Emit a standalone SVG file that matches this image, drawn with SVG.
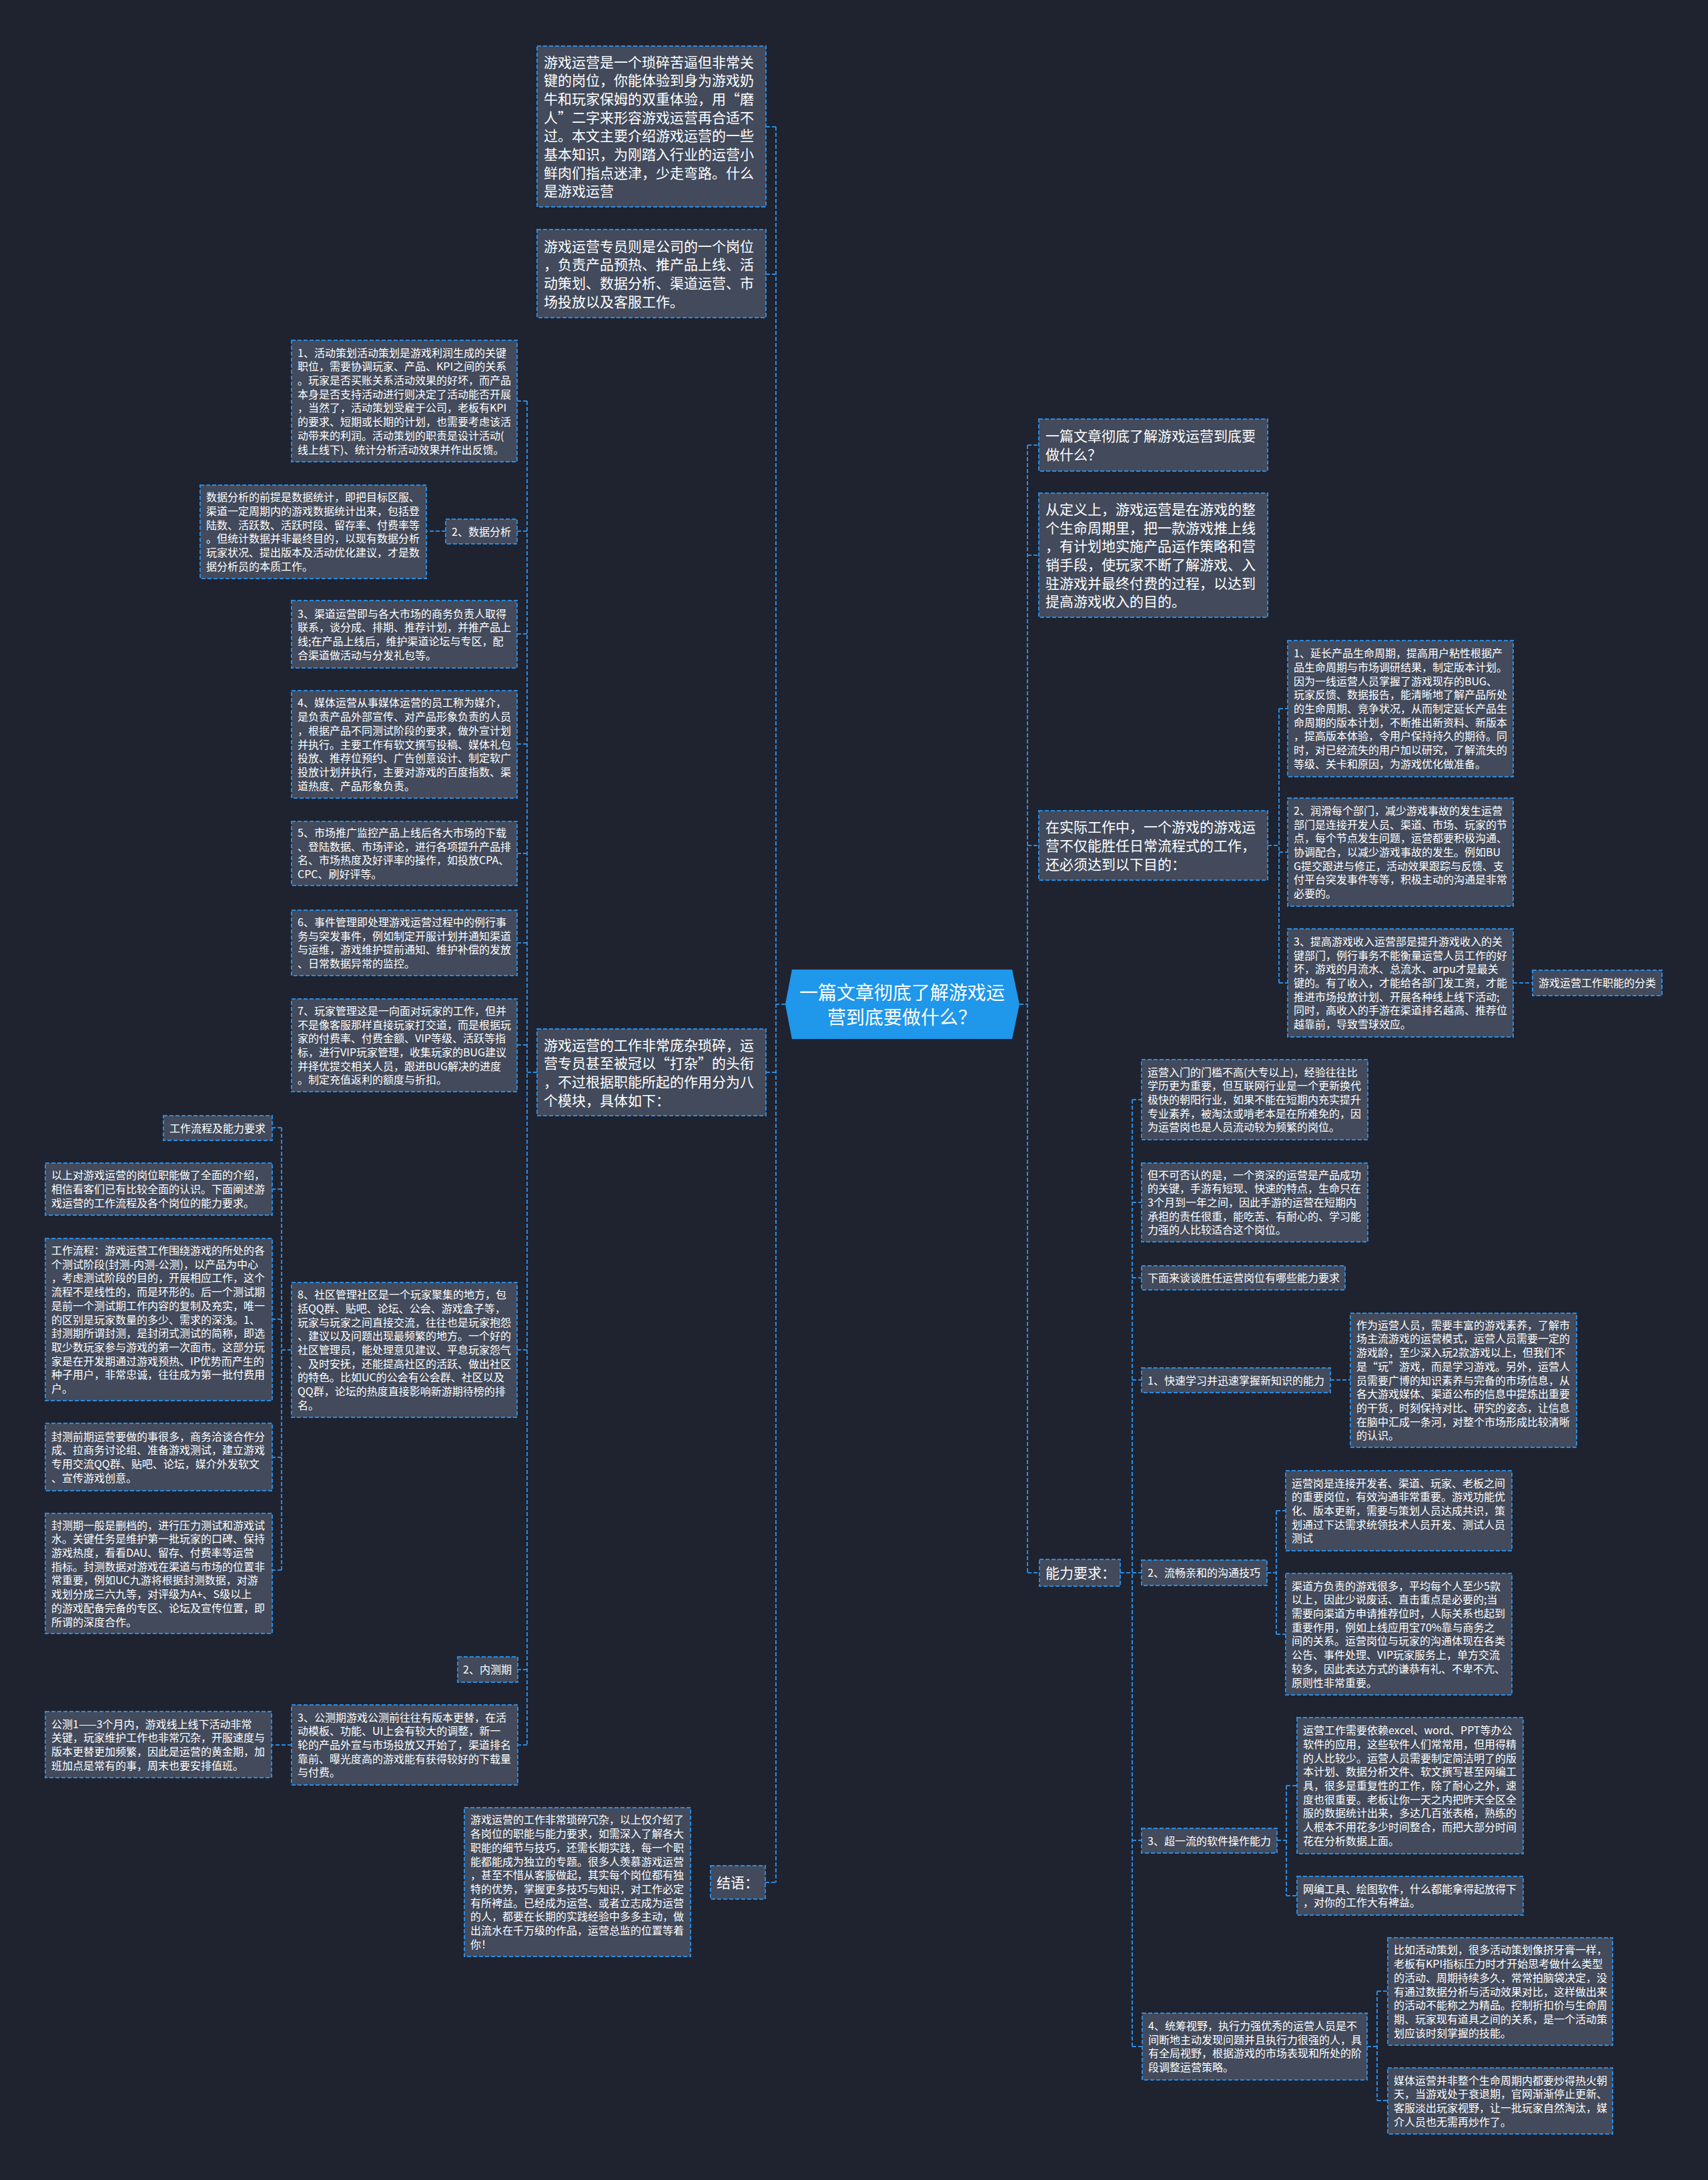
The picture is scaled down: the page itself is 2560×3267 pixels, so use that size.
<svg xmlns="http://www.w3.org/2000/svg" width="2560" height="3267" viewBox="0 0 2560 3267">
<style>
.bg{fill:#1f2330}
.box{fill:#424a5b;stroke:#2a8be0;stroke-width:2;stroke-dasharray:6 3}
.t{font-family:"Noto Sans CJK SC","Noto Sans",sans-serif;font-size:16px;fill:#ffffff}
.T{font-family:"Noto Sans CJK SC","Noto Sans",sans-serif;font-size:21px;fill:#ffffff}
.c{fill:none;stroke:#2a8be0;stroke-width:2;stroke-dasharray:6 3}
.ctr{fill:#1f97ea}
.ct{font-family:"Noto Sans CJK SC","Noto Sans",sans-serif;font-size:28px;fill:#ffffff;text-anchor:middle}
</style>
<rect class="bg" x="0" y="0" width="2560" height="3267"/>

<g id="connectors">
<path class="c" d="M1177 1505H1163M1163 190V2821M1148 190H1163M1148 411H1163M1148 1607H1163M1147 2821H1163"/>
<path class="c" d="M1528 1505H1540M1540 667V2357M1540 667H1557M1540 832H1557M1540 1267H1557M1540 2357H1558"/>
<path class="c" d="M805 1607H790M790 601V2615M790 601H775M790 796H775M790 950H775M790 1115H775M790 1279H775M790 1413H775M790 1566H775M790 2023H775M790 2502H776M790 2615H776"/>
<path class="c" d="M668 796H639"/>
<path class="c" d="M437 2023H422M422 1690V2353M422 1690H408M422 1782H408M422 1977H408M422 2184H408M422 2353H408"/>
<path class="c" d="M437 2615H407"/>
<path class="c" d="M1900 1267H1917M1917 1062V1473M1917 1062H1930M1917 1277H1930M1917 1473H1930"/>
<path class="c" d="M2268 1473H2297"/>
<path class="c" d="M1679 2357H1697M1697 1648V3067M1697 1648H1711M1697 1802H1711M1697 1915H1711M1697 2068H1711M1697 2357H1711M1697 2758H1711M1697 3067H1712"/>
<path class="c" d="M1994 2068H2024"/>
<path class="c" d="M1899 2357H1913M1913 2264V2449M1913 2264H1927M1913 2449H1927"/>
<path class="c" d="M1914 2758H1928M1928 2676V2841M1928 2676H1944M1928 2841H1944"/>
<path class="c" d="M2049 3067H2064M2064 2984V3148M2064 2984H2080M2064 3148H2080"/>
</g>

<g id="center">
<polygon class="ctr" points="1187,1453 1517,1453 1528,1505 1517,1557 1187,1557 1177,1505"/>
<text class="ct"><tspan x="1352" y="1498">一篇文章彻底了解游戏运</tspan><tspan x="1352" y="1535">营到底要做什么？</tspan></text>
</g>

<g id="L1">
<rect class="box" x="805" y="69" width="343" height="241"/>
<text class="T"><tspan x="815" y="100.5">游戏运营是一个琐碎苦逼但非常关</tspan><tspan x="815" dy="27.7">键的岗位，你能体验到身为游戏奶</tspan><tspan x="815" dy="27.7">牛和玩家保姆的双重体验，用“磨</tspan><tspan x="815" dy="27.7">人”二字来形容游戏运营再合适不</tspan><tspan x="815" dy="27.7">过。本文主要介绍游戏运营的一些</tspan><tspan x="815" dy="27.7">基本知识，为刚踏入行业的运营小</tspan><tspan x="815" dy="27.7">鲜肉们指点迷津，少走弯路。什么</tspan><tspan x="815" dy="27.7">是游戏运营</tspan></text>
</g>

<g id="L2">
<rect class="box" x="805" y="344" width="343" height="132"/>
<text class="T"><tspan x="815" y="376.5">游戏运营专员则是公司的一个岗位</tspan><tspan x="815" dy="27.7">，负责产品预热、推产品上线、活</tspan><tspan x="815" dy="27.7">动策划、数据分析、渠道运营、市</tspan><tspan x="815" dy="27.7">场投放以及客服工作。</tspan></text>
</g>

<g id="L3">
<rect class="box" x="805" y="1542" width="343" height="130"/>
<text class="T"><tspan x="815" y="1573.5">游戏运营的工作非常庞杂琐碎，运</tspan><tspan x="815" dy="27.7">营专员甚至被冠以“打杂”的头衔</tspan><tspan x="815" dy="27.7">，不过根据职能所起的作用分为八</tspan><tspan x="815" dy="27.7">个模块，具体如下：</tspan></text>
</g>

<g id="L4">
<rect class="box" x="1065" y="2796" width="82" height="50"/>
<text class="T"><tspan x="1074" y="2829">结语：</tspan></text>
</g>

<g id="L5">
<rect class="box" x="696" y="2709" width="339" height="223"/>
<text class="t"><tspan x="705" y="2733.4">游戏运营的工作非常琐碎冗杂，以上仅介绍了</tspan><tspan x="705" dy="20.7">各岗位的职能与能力要求，如需深入了解各大</tspan><tspan x="705" dy="20.7">职能的细节与技巧，还需长期实践，每一个职</tspan><tspan x="705" dy="20.7">能都能成为独立的专题。很多人羡慕游戏运营</tspan><tspan x="705" dy="20.7">，甚至不惜从客服做起，其实每个岗位都有独</tspan><tspan x="705" dy="20.7">特的优势，掌握更多技巧与知识，对工作必定</tspan><tspan x="705" dy="20.7">有所裨益。已经成为运营、或者立志成为运营</tspan><tspan x="705" dy="20.7">的人，都要在长期的实践经验中多多主动，做</tspan><tspan x="705" dy="20.7">出流水在千万级的作品，运营总监的位置等着</tspan><tspan x="705" dy="20.7">你！</tspan></text>
</g>

<g id="N1">
<rect class="box" x="437" y="510" width="338" height="182"/>
<text class="t"><tspan x="446" y="534.6">1、活动策划活动策划是游戏利润生成的关键</tspan><tspan x="446" dy="20.7">职位，需要协调玩家、产品、KPI之间的关系</tspan><tspan x="446" dy="20.7">。玩家是否买账关系活动效果的好坏，而产品</tspan><tspan x="446" dy="20.7">本身是否支持活动进行则决定了活动能否开展</tspan><tspan x="446" dy="20.7">，当然了，活动策划受雇于公司，老板有KPI</tspan><tspan x="446" dy="20.7">的要求、短期或长期的计划，也需要考虑该活</tspan><tspan x="446" dy="20.7">动带来的利润。活动策划的职责是设计活动(</tspan><tspan x="446" dy="20.7">线上线下)、统计分析活动效果并作出反馈。</tspan></text>
</g>

<g id="N2">
<rect class="box" x="668" y="778" width="107" height="37"/>
<text class="t"><tspan x="677" y="802.5">2、数据分析</tspan></text>
</g>

<g id="N2c">
<rect class="box" x="300" y="727" width="339" height="140"/>
<text class="t"><tspan x="309" y="751.3">数据分析的前提是数据统计，即把目标区服、</tspan><tspan x="309" dy="20.7">渠道一定周期内的游戏数据统计出来，包括登</tspan><tspan x="309" dy="20.7">陆数、活跃数、活跃时段、留存率、付费率等</tspan><tspan x="309" dy="20.7">。但统计数据并非最终目的，以现有数据分析</tspan><tspan x="309" dy="20.7">玩家状况、提出版本及活动优化建议，才是数</tspan><tspan x="309" dy="20.7">据分析员的本质工作。</tspan></text>
</g>

<g id="N3">
<rect class="box" x="437" y="900" width="338" height="101"/>
<text class="t"><tspan x="446" y="925.5">3、渠道运营即与各大市场的商务负责人取得</tspan><tspan x="446" dy="20.7">联系，谈分成、排期、推荐计划，并推产品上</tspan><tspan x="446" dy="20.7">线;在产品上线后，维护渠道论坛与专区，配</tspan><tspan x="446" dy="20.7">合渠道做活动与分发礼包等。</tspan></text>
</g>

<g id="N4">
<rect class="box" x="437" y="1035" width="338" height="161"/>
<text class="t"><tspan x="446" y="1059.4">4、媒体运营从事媒体运营的员工称为媒介，</tspan><tspan x="446" dy="20.7">是负责产品外部宣传、对产品形象负责的人员</tspan><tspan x="446" dy="20.7">，根据产品不同测试阶段的要求，做外宣计划</tspan><tspan x="446" dy="20.7">并执行。主要工作有软文撰写投稿、媒体礼包</tspan><tspan x="446" dy="20.7">投放、推荐位预约、广告创意设计、制定软广</tspan><tspan x="446" dy="20.7">投放计划并执行，主要对游戏的百度指数、渠</tspan><tspan x="446" dy="20.7">道热度、产品形象负责。</tspan></text>
</g>

<g id="N5">
<rect class="box" x="437" y="1231" width="338" height="96"/>
<text class="t"><tspan x="446" y="1254">5、市场推广监控产品上线后各大市场的下载</tspan><tspan x="446" dy="20.7">、登陆数据、市场评论，进行各项提升产品排</tspan><tspan x="446" dy="20.7">名、市场热度及好评率的操作，如投放CPA、</tspan><tspan x="446" dy="20.7">CPC、刷好评等。</tspan></text>
</g>

<g id="N6">
<rect class="box" x="437" y="1364" width="338" height="98"/>
<text class="t"><tspan x="446" y="1388">6、事件管理即处理游戏运营过程中的例行事</tspan><tspan x="446" dy="20.7">务与突发事件，例如制定开服计划并通知渠道</tspan><tspan x="446" dy="20.7">与运维，游戏维护提前通知、维护补偿的发放</tspan><tspan x="446" dy="20.7">、日常数据异常的监控。</tspan></text>
</g>

<g id="N7">
<rect class="box" x="437" y="1497" width="338" height="139"/>
<text class="t"><tspan x="446" y="1520.8">7、玩家管理这是一向面对玩家的工作，但并</tspan><tspan x="446" dy="20.7">不是像客服那样直接玩家打交道，而是根据玩</tspan><tspan x="446" dy="20.7">家的付费率、付费金额、VIP等级、活跃等指</tspan><tspan x="446" dy="20.7">标，进行VIP玩家管理，收集玩家的BUG建议</tspan><tspan x="446" dy="20.7">并择优提交相关人员，跟进BUG解决的进度</tspan><tspan x="446" dy="20.7">。制定充值返利的额度与折扣。</tspan></text>
</g>

<g id="N8">
<rect class="box" x="437" y="1922" width="338" height="202"/>
<text class="t"><tspan x="446" y="1946.2">8、社区管理社区是一个玩家聚集的地方，包</tspan><tspan x="446" dy="20.7">括QQ群、贴吧、论坛、公会、游戏盒子等，</tspan><tspan x="446" dy="20.7">玩家与玩家之间直接交流，往往也是玩家抱怨</tspan><tspan x="446" dy="20.7">、建议以及问题出现最频繁的地方。一个好的</tspan><tspan x="446" dy="20.7">社区管理员，能处理意见建议、平息玩家怨气</tspan><tspan x="446" dy="20.7">、及时安抚，还能提高社区的活跃、做出社区</tspan><tspan x="446" dy="20.7">的特色。比如UC的公会有公会群、社区以及</tspan><tspan x="446" dy="20.7">QQ群，论坛的热度直接影响新游期待榜的排</tspan><tspan x="446" dy="20.7">名。</tspan></text>
</g>

<g id="C1">
<rect class="box" x="245" y="1672" width="163" height="37"/>
<text class="t"><tspan x="254" y="1696.5">工作流程及能力要求</tspan></text>
</g>

<g id="C2">
<rect class="box" x="68" y="1743" width="340" height="78"/>
<text class="t"><tspan x="77" y="1767.3">以上对游戏运营的岗位职能做了全面的介绍，</tspan><tspan x="77" dy="20.7">相信看客们已有比较全面的认识。下面阐述游</tspan><tspan x="77" dy="20.7">戏运营的工作流程及各个岗位的能力要求。</tspan></text>
</g>

<g id="C3">
<rect class="box" x="68" y="1856" width="340" height="243"/>
<text class="t"><tspan x="77" y="1880">工作流程：游戏运营工作围绕游戏的所处的各</tspan><tspan x="77" dy="20.7">个测试阶段(封测-内测-公测)，以产品为中心</tspan><tspan x="77" dy="20.7">，考虑测试阶段的目的，开展相应工作，这个</tspan><tspan x="77" dy="20.7">流程不是线性的，而是环形的。后一个测试期</tspan><tspan x="77" dy="20.7">是前一个测试期工作内容的复制及充实，唯一</tspan><tspan x="77" dy="20.7">的区别是玩家数量的多少、需求的深浅。1、</tspan><tspan x="77" dy="20.7">封测期所谓封测，是封闭式测试的简称，即选</tspan><tspan x="77" dy="20.7">取少数玩家参与游戏的第一次面市。这部分玩</tspan><tspan x="77" dy="20.7">家是在开发期通过游戏预热、IP优势而产生的</tspan><tspan x="77" dy="20.7">种子用户，非常忠诚，往往成为第一批付费用</tspan><tspan x="77" dy="20.7">户。</tspan></text>
</g>

<g id="C4">
<rect class="box" x="68" y="2133" width="340" height="101"/>
<text class="t"><tspan x="77" y="2158.5">封测前期运营要做的事很多，商务洽谈合作分</tspan><tspan x="77" dy="20.7">成、拉商务讨论组、准备游戏测试，建立游戏</tspan><tspan x="77" dy="20.7">专用交流QQ群、贴吧、论坛，媒介外发软文</tspan><tspan x="77" dy="20.7">、宣传游戏创意。</tspan></text>
</g>

<g id="C5">
<rect class="box" x="68" y="2268" width="340" height="180"/>
<text class="t"><tspan x="77" y="2291.6">封测期一般是删档的，进行压力测试和游戏试</tspan><tspan x="77" dy="20.7">水。关键任务是维护第一批玩家的口碑、保持</tspan><tspan x="77" dy="20.7">游戏热度，看看DAU、留存、付费率等运营</tspan><tspan x="77" dy="20.7">指标。封测数据对游戏在渠道与市场的位置非</tspan><tspan x="77" dy="20.7">常重要，例如UC九游将根据封测数据，对游</tspan><tspan x="77" dy="20.7">戏划分成三六九等，对评级为A+、S级以上</tspan><tspan x="77" dy="20.7">的游戏配备完备的专区、论坛及宣传位置，即</tspan><tspan x="77" dy="20.7">所谓的深度合作。</tspan></text>
</g>

<g id="N9">
<rect class="box" x="686" y="2483" width="90" height="38"/>
<text class="t"><tspan x="694" y="2508">2、内测期</tspan></text>
</g>

<g id="N10">
<rect class="box" x="437" y="2555" width="339" height="120"/>
<text class="t"><tspan x="446" y="2579.6">3、公测期游戏公测前往往有版本更替，在活</tspan><tspan x="446" dy="20.7">动模板、功能、UI上会有较大的调整，新一</tspan><tspan x="446" dy="20.7">轮的产品外宣与市场投放又开始了，渠道排名</tspan><tspan x="446" dy="20.7">靠前、曝光度高的游戏能有获得较好的下载量</tspan><tspan x="446" dy="20.7">与付费。</tspan></text>
</g>

<g id="N10c">
<rect class="box" x="68" y="2565" width="339" height="99"/>
<text class="t"><tspan x="77" y="2589.5">公测1——3个月内，游戏线上线下活动非常</tspan><tspan x="77" dy="20.7">关键，玩家维护工作也非常冗杂，开服速度与</tspan><tspan x="77" dy="20.7">版本更替更加频繁，因此是运营的黄金期，加</tspan><tspan x="77" dy="20.7">班加点是常有的事，周末也要安排值班。</tspan></text>
</g>

<g id="Ra">
<rect class="box" x="1557" y="628" width="343" height="78"/>
<text class="T"><tspan x="1567" y="661.2">一篇文章彻底了解游戏运营到底要</tspan><tspan x="1567" dy="27.7">做什么？</tspan></text>
</g>

<g id="Rb">
<rect class="box" x="1557" y="739" width="343" height="186"/>
<text class="T"><tspan x="1567" y="770.8">从定义上，游戏运营是在游戏的整</tspan><tspan x="1567" dy="27.7">个生命周期里，把一款游戏推上线</tspan><tspan x="1567" dy="27.7">，有计划地实施产品运作策略和营</tspan><tspan x="1567" dy="27.7">销手段，使玩家不断了解游戏、入</tspan><tspan x="1567" dy="27.7">驻游戏并最终付费的过程，以达到</tspan><tspan x="1567" dy="27.7">提高游戏收入的目的。</tspan></text>
</g>

<g id="Rc">
<rect class="box" x="1557" y="1215" width="343" height="104"/>
<text class="T"><tspan x="1567" y="1247.3">在实际工作中，一个游戏的游戏运</tspan><tspan x="1567" dy="27.7">营不仅能胜任日常流程式的工作，</tspan><tspan x="1567" dy="27.7">还必须达到以下目的：</tspan></text>
</g>

<g id="Rd">
<rect class="box" x="1558" y="2337" width="121" height="40"/>
<text class="T"><tspan x="1567" y="2365">能力要求：</tspan></text>
</g>

<g id="RC1">
<rect class="box" x="1930" y="960" width="338" height="204"/>
<text class="t"><tspan x="1939" y="985.2">1、延长产品生命周期，提高用户粘性根据产</tspan><tspan x="1939" dy="20.7">品生命周期与市场调研结果，制定版本计划。</tspan><tspan x="1939" dy="20.7">因为一线运营人员掌握了游戏现存的BUG、</tspan><tspan x="1939" dy="20.7">玩家反馈、数据报告，能清晰地了解产品所处</tspan><tspan x="1939" dy="20.7">的生命周期、竞争状况，从而制定延长产品生</tspan><tspan x="1939" dy="20.7">命周期的版本计划，不断推出新资料、新版本</tspan><tspan x="1939" dy="20.7">，提高版本体验，令用户保持持久的期待。同</tspan><tspan x="1939" dy="20.7">时，对已经流失的用户加以研究，了解流失的</tspan><tspan x="1939" dy="20.7">等级、关卡和原因，为游戏优化做准备。</tspan></text>
</g>

<g id="RC2">
<rect class="box" x="1930" y="1196" width="338" height="162"/>
<text class="t"><tspan x="1939" y="1220.9">2、润滑每个部门，减少游戏事故的发生运营</tspan><tspan x="1939" dy="20.7">部门是连接开发人员、渠道、市场、玩家的节</tspan><tspan x="1939" dy="20.7">点，每个节点发生问题，运营都要积极沟通、</tspan><tspan x="1939" dy="20.7">协调配合，以减少游戏事故的发生。例如BU</tspan><tspan x="1939" dy="20.7">G提交跟进与修正，活动效果跟踪与反馈、支</tspan><tspan x="1939" dy="20.7">付平台突发事件等等，积极主动的沟通是非常</tspan><tspan x="1939" dy="20.7">必要的。</tspan></text>
</g>

<g id="RC3">
<rect class="box" x="1930" y="1392" width="338" height="162"/>
<text class="t"><tspan x="1939" y="1416.9">3、提高游戏收入运营部是提升游戏收入的关</tspan><tspan x="1939" dy="20.7">键部门，例行事务不能衡量运营人员工作的好</tspan><tspan x="1939" dy="20.7">坏，游戏的月流水、总流水、arpu才是最关</tspan><tspan x="1939" dy="20.7">键的。有了收入，才能给各部门发工资，才能</tspan><tspan x="1939" dy="20.7">推进市场投放计划、开展各种线上线下活动;</tspan><tspan x="1939" dy="20.7">同时，高收入的手游在渠道排名越高、推荐位</tspan><tspan x="1939" dy="20.7">越靠前，导致雪球效应。</tspan></text>
</g>

<g id="RC3c">
<rect class="box" x="2297" y="1454" width="194" height="38"/>
<text class="t"><tspan x="2306" y="1479">游戏运营工作职能的分类</tspan></text>
</g>

<g id="A">
<rect class="box" x="1711" y="1588" width="339" height="120"/>
<text class="t"><tspan x="1720" y="1612.6">运营入门的门槛不高(大专以上)，经验往往比</tspan><tspan x="1720" dy="20.7">学历更为重要，但互联网行业是一个更新换代</tspan><tspan x="1720" dy="20.7">极快的朝阳行业，如果不能在短期内充实提升</tspan><tspan x="1720" dy="20.7">专业素养，被淘汰或啃老本是在所难免的，因</tspan><tspan x="1720" dy="20.7">为运营岗也是人员流动较为频繁的岗位。</tspan></text>
</g>

<g id="B">
<rect class="box" x="1711" y="1743" width="339" height="118"/>
<text class="t"><tspan x="1720" y="1766.6">但不可否认的是，一个资深的运营是产品成功</tspan><tspan x="1720" dy="20.7">的关键，手游有短现、快速的特点，生命只在</tspan><tspan x="1720" dy="20.7">3个月到一年之间，因此手游的运营在短期内</tspan><tspan x="1720" dy="20.7">承担的责任很重，能吃苦、有耐心的、学习能</tspan><tspan x="1720" dy="20.7">力强的人比较适合这个岗位。</tspan></text>
</g>

<g id="C">
<rect class="box" x="1711" y="1897" width="305" height="36"/>
<text class="t"><tspan x="1720" y="1921">下面来谈谈胜任运营岗位有哪些能力要求</tspan></text>
</g>

<g id="D">
<rect class="box" x="1711" y="2050" width="283" height="37"/>
<text class="t"><tspan x="1720" y="2074.5">1、快速学习并迅速掌握新知识的能力</tspan></text>
</g>

<g id="E">
<rect class="box" x="2024" y="1968" width="339" height="201"/>
<text class="t"><tspan x="2033" y="1991.7">作为运营人员，需要丰富的游戏素养，了解市</tspan><tspan x="2033" dy="20.7">场主流游戏的运营模式，运营人员需要一定的</tspan><tspan x="2033" dy="20.7">游戏龄，至少深入玩2款游戏以上，但我们不</tspan><tspan x="2033" dy="20.7">是“玩”游戏，而是学习游戏。另外，运营人</tspan><tspan x="2033" dy="20.7">员需要广博的知识素养与完备的市场信息，从</tspan><tspan x="2033" dy="20.7">各大游戏媒体、渠道公布的信息中提炼出重要</tspan><tspan x="2033" dy="20.7">的干货，时刻保持对比、研究的姿态，让信息</tspan><tspan x="2033" dy="20.7">在脑中汇成一条河，对整个市场形成比较清晰</tspan><tspan x="2033" dy="20.7">的认识。</tspan></text>
</g>

<g id="S2">
<rect class="box" x="1711" y="2338" width="188" height="38"/>
<text class="t"><tspan x="1720" y="2363">2、流畅亲和的沟通技巧</tspan></text>
</g>

<g id="F">
<rect class="box" x="1927" y="2204" width="339" height="120"/>
<text class="t"><tspan x="1936" y="2228.6">运营岗是连接开发者、渠道、玩家、老板之间</tspan><tspan x="1936" dy="20.7">的重要岗位，有效沟通非常重要。游戏功能优</tspan><tspan x="1936" dy="20.7">化、版本更新，需要与策划人员达成共识，策</tspan><tspan x="1936" dy="20.7">划通过下达需求统领技术人员开发、测试人员</tspan><tspan x="1936" dy="20.7">测试</tspan></text>
</g>

<g id="G">
<rect class="box" x="1927" y="2358" width="339" height="182"/>
<text class="t"><tspan x="1936" y="2382.6">渠道方负责的游戏很多，平均每个人至少5款</tspan><tspan x="1936" dy="20.7">以上，因此少说废话、直击重点是必要的;当</tspan><tspan x="1936" dy="20.7">需要向渠道方申请推荐位时，人际关系也起到</tspan><tspan x="1936" dy="20.7">重要作用，例如上线应用宝70%靠与商务之</tspan><tspan x="1936" dy="20.7">间的关系。运营岗位与玩家的沟通体现在各类</tspan><tspan x="1936" dy="20.7">公告、事件处理、VIP玩家服务上，单方交流</tspan><tspan x="1936" dy="20.7">较多，因此表达方式的谦恭有礼、不卑不亢、</tspan><tspan x="1936" dy="20.7">原则性非常重要。</tspan></text>
</g>

<g id="S3">
<rect class="box" x="1711" y="2740" width="203" height="37"/>
<text class="t"><tspan x="1720" y="2764.5">3、超一流的软件操作能力</tspan></text>
</g>

<g id="H">
<rect class="box" x="1944" y="2574" width="339" height="204"/>
<text class="t"><tspan x="1953" y="2599.2">运营工作需要依赖excel、word、PPT等办公</tspan><tspan x="1953" dy="20.7">软件的应用，这些软件人们常常用，但用得精</tspan><tspan x="1953" dy="20.7">的人比较少。运营人员需要制定简洁明了的版</tspan><tspan x="1953" dy="20.7">本计划、数据分析文件、软文撰写甚至网编工</tspan><tspan x="1953" dy="20.7">具，很多是重复性的工作，除了耐心之外，速</tspan><tspan x="1953" dy="20.7">度也很重要。老板让你一天之内把昨天全区全</tspan><tspan x="1953" dy="20.7">服的数据统计出来，多达几百张表格，熟练的</tspan><tspan x="1953" dy="20.7">人根本不用花多少时间整合，而把大部分时间</tspan><tspan x="1953" dy="20.7">花在分析数据上面。</tspan></text>
</g>

<g id="H2">
<rect class="box" x="1944" y="2812" width="339" height="58"/>
<text class="t"><tspan x="1953" y="2836.7">网编工具、绘图软件，什么都能拿得起放得下</tspan><tspan x="1953" dy="20.7">，对你的工作大有裨益。</tspan></text>
</g>

<g id="S4">
<rect class="box" x="1712" y="3017" width="337" height="100"/>
<text class="t"><tspan x="1721" y="3042">4、统筹视野，执行力强优秀的运营人员是不</tspan><tspan x="1721" dy="20.7">间断地主动发现问题并且执行力很强的人，具</tspan><tspan x="1721" dy="20.7">有全局视野，根据游戏的市场表现和所处的阶</tspan><tspan x="1721" dy="20.7">段调整运营策略。</tspan></text>
</g>

<g id="I">
<rect class="box" x="2080" y="2904" width="337" height="161"/>
<text class="t"><tspan x="2089" y="2928.4">比如活动策划，很多活动策划像挤牙膏一样，</tspan><tspan x="2089" dy="20.7">老板有KPI指标压力时才开始思考做什么类型</tspan><tspan x="2089" dy="20.7">的活动、周期持续多久，常常拍脑袋决定，没</tspan><tspan x="2089" dy="20.7">有通过数据分析与活动效果对比，这样做出来</tspan><tspan x="2089" dy="20.7">的活动不能称之为精品。控制折扣价与生命周</tspan><tspan x="2089" dy="20.7">期、玩家现有道具之间的关系，是一个活动策</tspan><tspan x="2089" dy="20.7">划应该时刻掌握的技能。</tspan></text>
</g>

<g id="J">
<rect class="box" x="2080" y="3099" width="337" height="99"/>
<text class="t"><tspan x="2089" y="3123.5">媒体运营并非整个生命周期内都要炒得热火朝</tspan><tspan x="2089" dy="20.7">天，当游戏处于衰退期，官网渐渐停止更新、</tspan><tspan x="2089" dy="20.7">客服淡出玩家视野，让一批玩家自然淘汰，媒</tspan><tspan x="2089" dy="20.7">介人员也无需再炒作了。</tspan></text>
</g>
</svg>
